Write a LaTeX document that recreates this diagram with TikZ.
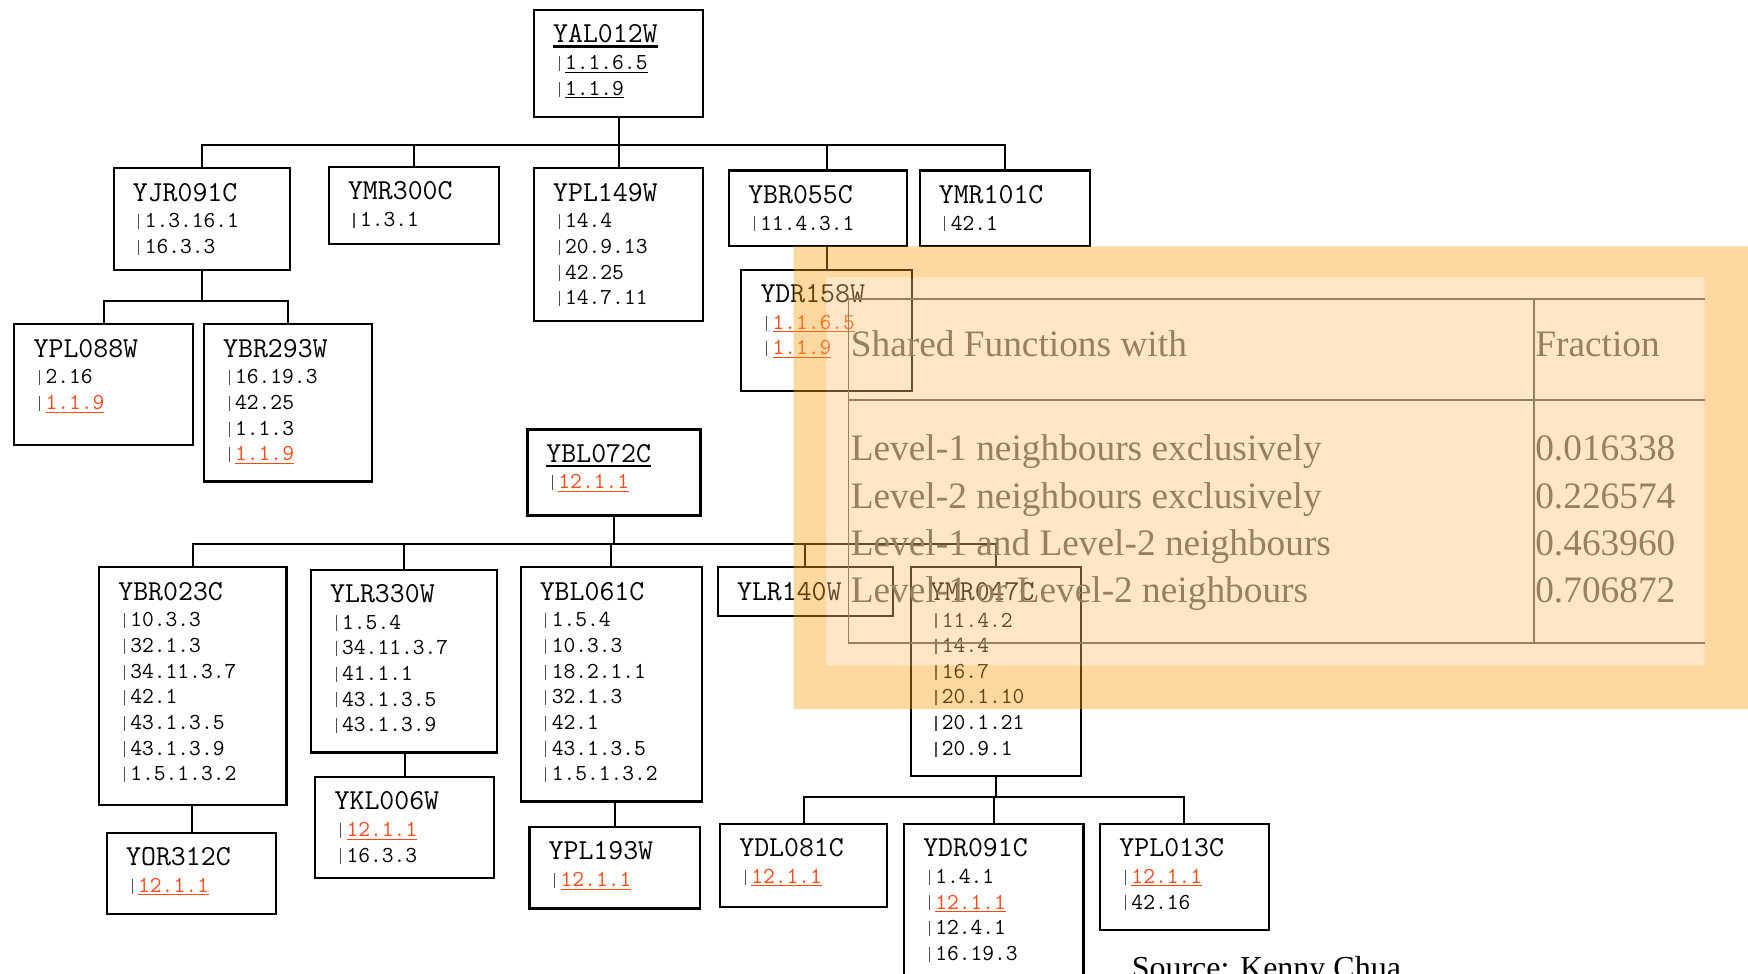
\documentclass[tikz,border=0pt]{standalone}
\usepackage{fontspec}
\setmainfont{Liberation Serif}
\usetikzlibrary{calc}

\definecolor{linkred}{RGB}{250,75,25}
\definecolor{bargray}{RGB}{80,80,80}
\definecolor{frameorange}{RGB}{250,157,17}
\definecolor{panelorange}{RGB}{252,192,112}
\definecolor{tableink}{RGB}{150,128,96}

\newcommand{\namefont}{\fontsize{26}{28}\selectfont\ttfamily}
\newcommand{\attrfont}{\fontsize{20.5}{23}\selectfont\ttfamily}
\newsavebox{\ulbox}
% thin underline for category numbers
\newcommand{\uln}[1]{\sbox{\ulbox}{#1}\rlap{\rule[-2.8pt]{\wd\ulbox}{1pt}}\usebox{\ulbox}}
% heavier underline for the query protein
\newcommand{\query}[1]{\sbox{\ulbox}{#1}\rlap{\rule[-4.2pt]{\wd\ulbox}{1.9pt}}\usebox{\ulbox}}
\newcommand{\golink}[1]{{\color{linkred}\uln{#1}}}
\newcommand{\vb}{\makebox[0.525em][c]{\textcolor{bargray}{\rule[-0.06em]{0.05em}{0.66em}}}}

\tikzset{
  genebox/.style={draw, line width=1.9pt, anchor=north west, inner sep=0pt},
  genetext/.style={anchor=north west, inner sep=0pt, align=left, font=\attrfont,
    xshift=18pt, yshift=-14pt},
  tree/.style={line width=1.9pt},
  tableline/.style={draw=tableink, line width=1.5pt},
  tabletxt/.style={anchor=base west, inner sep=0pt, text=tableink,
    font=\fontsize{33.5}{36}\selectfont},
}

\begin{document}
\begin{tikzpicture}[x=1pt, y=-1pt]
  \useasboundingbox (0,0) rectangle (1568,873);
  \clip (0,0) rectangle (1568,873);

  % first tree, query YAL012W
  \node[genebox, minimum width=152, minimum height=96] (YAL012W) at (478,8) {};
  \node[genetext] (YAL012W-t) at (YAL012W.north west)
    {{\namefont\query{YAL012W}}\\[1pt]\vb\uln{1.1.6.5}\\\vb\uln{1.1.9}};

  \node[genebox, minimum width=158, minimum height=91] (YJR091C) at (101,150) {};
  \node[genetext] (YJR091C-t) at (YJR091C.north west)
    {{\namefont YJR091C}\\[1pt]\vb 1.3.16.1\\\vb 16.3.3};
  \node[genebox, minimum width=153, minimum height=69] (YMR300C) at (294,149) {};
  \node[genetext] (YMR300C-t) at (YMR300C.north west)
    {{\namefont YMR300C}\\[1pt]\vb 1.3.1};
  \node[genebox, minimum width=152, minimum height=137] (YPL149W) at (478,150) {};
  \node[genetext] (YPL149W-t) at (YPL149W.north west)
    {{\namefont YPL149W}\\[1pt]\vb 14.4\\\vb 20.9.13\\\vb 42.25\\\vb 14.7.11};
  \node[genebox, minimum width=160, minimum height=68] (YBR055C) at (653,152) {};
  \node[genetext] (YBR055C-t) at (YBR055C.north west)
    {{\namefont YBR055C}\\[1pt]\vb 11.4.3.1};
  \node[genebox, minimum width=153, minimum height=68] (YMR101C) at (824,152) {};
  \node[genetext] (YMR101C-t) at (YMR101C.north west)
    {{\namefont YMR101C}\\[1pt]\vb 42.1};

  \node[genebox, minimum width=160, minimum height=108] (YPL088W) at (12,290) {};
  \node[genetext] (YPL088W-t) at (YPL088W.north west)
    {{\namefont YPL088W}\\[1pt]\vb 2.16\\\vb\golink{1.1.9}};
  \node[genebox, minimum width=151, minimum height=141] (YBR293W) at (182,290) {};
  \node[genetext] (YBR293W-t) at (YBR293W.north west)
    {{\namefont YBR293W}\\[1pt]\vb 16.19.3\\\vb 42.25\\\vb 1.1.3\\\vb\golink{1.1.9}};
  \node[genebox, minimum width=153, minimum height=109] (YDR158W) at (664,241) {};
  \node[genetext] (YDR158W-t) at (YDR158W.north west)
    {{\namefont YDR158W}\\[1pt]\vb\golink{1.1.6.5}\\\vb\golink{1.1.9}};

  \draw[tree] (YAL012W.south) -- ++(0,24) coordinate (bus-a);
  \foreach \c in {YJR091C, YMR300C, YPL149W, YMR101C}
    \draw[tree] (\c.north) |- (bus-a);
  \draw[tree] (YDR158W.north |- YBR055C.north) |- (bus-a);
  \draw[tree] (YDR158W.north) -- (YDR158W.north |- YBR055C.south);
  \draw[tree] (YJR091C.south) -- ++(0,27) coordinate (bus-d);
  \foreach \c in {YPL088W, YBR293W}
    \draw[tree] (\c.north) |- (bus-d);

  % second tree, query YBL072C
  \node[genebox, line width=2.8pt, minimum width=155, minimum height=77] (YBL072C) at (472,384) {};
  \node[genetext] (YBL072C-t) at (YBL072C.north west)
    {{\namefont\query{YBL072C}}\\[1pt]\vb\golink{12.1.1}};

  \node[genebox, minimum width=168, minimum height=213] (YBR023C) at (88,508) {};
  \node[genetext] (YBR023C-t) at (YBR023C.north west)
    {{\namefont YBR023C}\\[1pt]\vb 10.3.3\\\vb 32.1.3\\\vb 34.11.3.7\\\vb 42.1\\\vb 43.1.3.5\\\vb 43.1.3.9\\\vb 1.5.1.3.2};
  \node[genebox, minimum width=167, minimum height=164] (YLR330W) at (278,510) {};
  \node[genetext] (YLR330W-t) at (YLR330W.north west)
    {{\namefont YLR330W}\\[1pt]\vb 1.5.4\\\vb 34.11.3.7\\\vb 41.1.1\\\vb 43.1.3.5\\\vb 43.1.3.9};
  \node[genebox, minimum width=163, minimum height=210] (YBL061C) at (466,508) {};
  \node[genetext] (YBL061C-t) at (YBL061C.north west)
    {{\namefont YBL061C}\\[1pt]\vb 1.5.4\\\vb 10.3.3\\\vb 18.2.1.1\\\vb 32.1.3\\\vb 42.1\\\vb 43.1.3.5\\\vb 1.5.1.3.2};
  \node[genebox, minimum width=157, minimum height=44] (YLR140W) at (643,508) {};
  \node[genetext] (YLR140W-t) at (YLR140W.north west)
    {{\namefont YLR140W}};
  \node[genebox, minimum width=153, minimum height=187] (YMR047C) at (816,508) {};
  \node[genetext] (YMR047C-t) at (YMR047C.north west)
    {{\namefont YMR047C}\\[1pt]\vb 11.4.2\\\vb 14.4\\\vb 16.7\\\vb 20.1.10\\\vb 20.1.21\\\vb 20.9.1};

  \node[genebox, minimum width=152, minimum height=73] (YOR312C) at (95,746) {};
  \node[genetext] (YOR312C-t) at (YOR312C.north west)
    {{\namefont YOR312C}\\[1pt]\vb\golink{12.1.1}};
  \node[genebox, minimum width=160, minimum height=91] (YKL006W) at (282,696) {};
  \node[genetext] (YKL006W-t) at (YKL006W.north west)
    {{\namefont YKL006W}\\[1pt]\vb\golink{12.1.1}\\\vb 16.3.3};
  \node[genebox, minimum width=153, minimum height=73] (YPL193W) at (474,741) {};
  \node[genetext] (YPL193W-t) at (YPL193W.north west)
    {{\namefont YPL193W}\\[1pt]\vb\golink{12.1.1}};
  \node[genebox, minimum width=150, minimum height=75] (YDL081C) at (645,738) {};
  \node[genetext] (YDL081C-t) at (YDL081C.north west)
    {{\namefont YDL081C}\\[1pt]\vb\golink{12.1.1}};
  \node[genebox, minimum width=161, minimum height=150] (YDR091C) at (810,738) {};
  \node[genetext] (YDR091C-t) at (YDR091C.north west)
    {{\namefont YDR091C}\\[1pt]\vb 1.4.1\\\vb\golink{12.1.1}\\\vb 12.4.1\\\vb 16.19.3};
  \node[genebox, minimum width=151, minimum height=95] (YPL013C) at (986,738) {};
  \node[genetext] (YPL013C-t) at (YPL013C.north west)
    {{\namefont YPL013C}\\[1pt]\vb\golink{12.1.1}\\\vb 42.16};

  \draw[tree] (YBL072C.south) -- ++(0,24) coordinate (bus-b);
  \foreach \c in {YBR023C, YLR330W, YBL061C, YLR140W, YMR047C}
    \draw[tree] (\c.north) |- (bus-b);
  \draw[tree] (YOR312C.north) -- (YOR312C.north |- YBR023C.south);
  \draw[tree] (YKL006W.north) -- (YKL006W.north |- YLR330W.south);
  \draw[tree] (YPL193W.north) -- (YPL193W.north |- YBL061C.south);
  \draw[tree] (YMR047C.south) -- ++(0,18) coordinate (bus-c);
  \foreach \c in {YDL081C, YDR091C, YPL013C}
    \draw[tree] (\c.north) |- (bus-c);

  % translucent panel with the table on top
  \fill[frameorange, fill opacity=0.4, even odd rule]
    (712,221) rectangle (1568,636) (741,249) rectangle (1529,597);
  \fill[panelorange, fill opacity=0.4] (741,249) rectangle (1529,597);
  \draw[tableline] (761,268) -- (1529,268);
  \draw[tableline] (761,359) -- (1529,359);
  \draw[tableline] (761,577) -- (1529,577);
  \draw[tableline] (761,268) -- (761,577);
  \draw[tableline] (1376,268) -- (1376,577);

  \node[tabletxt] (hdr-shared) at (763,320) {Shared Functions with};
  \node[tabletxt] (hdr-frac) at (1377,320) {Fraction};
  \foreach \y/\txt/\val in {413/Level-1 neighbours exclusively/0.016338,
                            456/Level-2 neighbours exclusively/0.226574,
                            498/Level-1 and Level-2 neighbours/0.463960,
                            540/Level-1 or Level-2 neighbours/0.706872} {
    \node[tabletxt] at (763,\y) {\txt};
    \node[tabletxt] at (1377,\y) {\val};
  }

  \node[anchor=base west, inner sep=0pt, font=\fontsize{28.7}{31}\selectfont]
    (source) at (1015,878) {Source: Kenny Chua};
\end{tikzpicture}
\end{document}
